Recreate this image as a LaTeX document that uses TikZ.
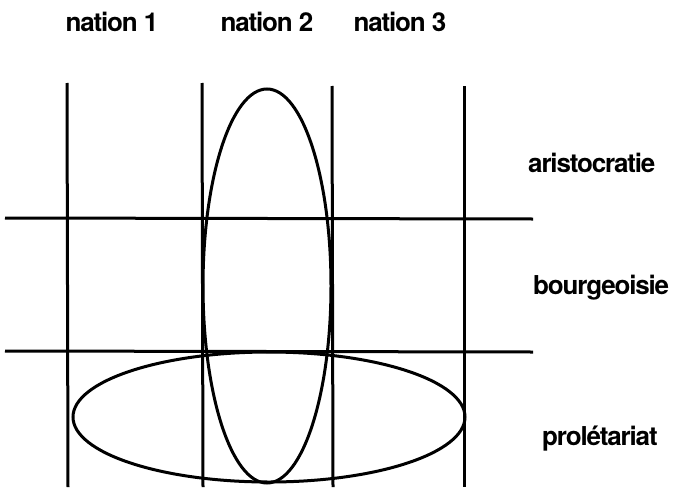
\documentclass[tikz,border=0pt]{standalone}
\usepackage{fontspec}
\setmainfont{TeX Gyre Heros}
\newfontfamily\tightfont[LetterSpace=-4.5]{TeX Gyre Heros}
\begin{document}
\begin{tikzpicture}[x=1pt,y=-1pt,
  lbl/.style={font=\tightfont\bfseries\fontsize{26}{28}\selectfont, inner sep=0pt, anchor=base},
  rlbl/.style={font=\tightfont\bfseries\fontsize{26}{28}\selectfont, inner sep=0pt, anchor=mid west},
  ln/.style={line width=3pt},
  ell/.style={line width=3pt}]
\useasboundingbox (0,0) rectangle (679,487);
% column labels
\node[lbl] (n1) at (112,32) {nation 1};
\node[lbl] (n2) at (267,32) {nation 2};
\node[lbl] (n3) at (400,32) {nation 3};
% row labels
\node[rlbl] (ar) at (528,170) {aristocratie};
\node[rlbl] (bo) at (533,292) {bourgeoisie};
\node[rlbl] (pr) at (542,443) {prolétariat};
% vertical lines
\coordinate (v1t) at (67,83);  \coordinate (v1b) at (68,487);
\coordinate (v2t) at (202,83); \coordinate (v2b) at (203,487);
\coordinate (v3t) at (332,86); \coordinate (v3b) at (333,487);
\coordinate (v4t) at (464,86); \coordinate (v4b) at (464,487);
\draw[ln] (v1t) -- (v1b);
\draw[ln] (v2t) -- (v2b);
\draw[ln] (v3t) -- (v3b);
\draw[ln] (v4t) -- (v4b);
% horizontal lines
\coordinate (h1l) at (5,218); \coordinate (h1r) at (533,219);
\coordinate (h2l) at (5,351); \coordinate (h2r) at (533,352);
\draw[ln] (h1l) -- (h1r);
\draw[ln] (h2l) -- (h2r);
% ellipses
\draw[ell] (267,286) ellipse [x radius=64, y radius=197];
\draw[ell] (269,417) ellipse [x radius=196, y radius=65];
\end{tikzpicture}
\end{document}
